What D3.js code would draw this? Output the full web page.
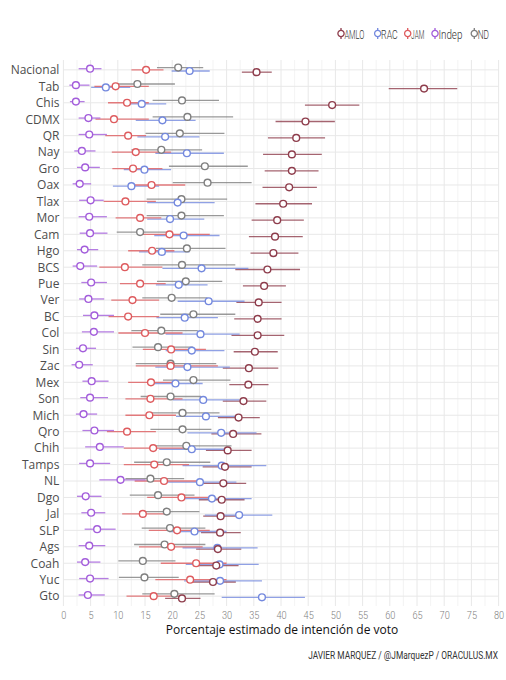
<!DOCTYPE html>
<html><head><meta charset="utf-8">
<script src="https://cdn.jsdelivr.net/npm/d3@7"></script>
<style>
html,body{margin:0;padding:0;background:#fff;}
</style></head>
<body><svg id="c" width="506" height="680"></svg>
<script>
const states = ["Nacional","Tab","Chis","CDMX","QR","Nay","Gro","Oax","Tlax","Mor","Cam","Hgo","BCS","Pue","Ver","BC","Col","Sin","Zac","Mex","Son","Mich","Qro","Chih","Tamps","NL","Dgo","Jal","SLP","Ags","Coah","Yuc","Gto"];
const parties = ["AMLO","RAC","JAM","Indep","ND"];
const xTicks = [0,5,10,15,20,25,30,35,40,45,50,55,60,65,70,75,80];

const amloEst = [35.5,66.3,49.4,44.5,42.8,42.0,42.0,41.5,40.4,39.3,38.9,38.6,37.5,36.9,35.9,35.7,35.7,35.2,34.1,34.0,33.1,32.2,31.2,30.2,29.7,29.4,29.1,28.9,28.8,28.4,28.1,27.5,21.8];
const amloLo  = [32.8,59.8,44.4,39.0,37.6,36.7,37.0,36.6,35.3,34.6,34.1,34.4,31.6,33.0,31.8,31.4,30.9,31.3,29.3,30.5,29.3,28.4,27.2,26.2,25.6,25.6,24.9,25.7,25.3,24.4,23.8,22.8,18.7];
const amloHi  = [38.3,72.4,54.4,49.9,48.1,47.5,46.9,46.6,45.7,44.2,44.0,43.2,43.5,40.9,40.1,40.1,40.6,39.4,39.5,37.7,37.3,36.1,36.4,34.6,34.6,33.6,33.3,32.7,32.6,32.7,32.2,31.7,25.2];

const racEst = [23.2,7.8,14.4,18.2,18.7,22.7,14.9,12.5,21.0,19.6,22.1,18.1,25.4,21.2,26.7,22.3,25.2,23.6,22.8,20.6,25.7,26.2,29.0,23.6,29.1,25.1,27.3,32.3,24.1,28.3,28.7,28.8,36.5];
const racLo  = [19.9,5.1,11.4,13.3,13.6,16.9,11.1,9.1,15.4,15.4,16.7,13.9,18.2,17.0,21.0,17.1,18.8,18.8,16.9,16.7,20.1,20.7,22.8,17.6,21.9,18.8,21.3,26.0,19.4,21.9,22.5,22.2,29.1];
const racHi  = [26.9,12.3,18.9,24.3,25.0,29.5,19.8,17.6,27.8,25.9,28.7,23.2,34.0,26.5,33.3,28.4,32.4,29.6,30.6,25.6,32.4,32.4,35.5,30.0,37.3,31.8,34.6,38.4,30.0,35.7,35.9,36.5,44.4];

const jamEst = [15.2,9.6,11.7,9.3,11.9,13.3,12.8,16.2,11.4,14.1,19.5,16.3,11.3,14.1,12.7,11.9,15.0,19.8,19.7,16.1,16.0,15.8,11.7,16.5,16.7,18.5,21.7,14.6,20.9,19.8,24.4,23.3,16.6];
const jamLo  = [12.5,5.7,8.2,5.9,7.7,8.9,9.0,12.0,7.4,9.6,14.5,11.9,6.6,10.4,8.8,8.3,10.1,14.6,13.3,11.9,11.4,11.4,8.0,11.1,11.1,13.1,15.4,10.8,15.7,13.9,17.9,16.9,11.6];
const jamHi  = [18.4,15.7,15.7,15.7,15.2,19.8,18.2,22.4,17.0,18.0,26.9,20.4,18.2,18.8,17.6,17.6,21.9,26.2,28.4,20.4,21.9,20.7,17.0,22.2,23.1,25.0,27.5,18.8,26.9,25.6,30.0,30.0,22.2];

const indEst = [4.9,2.3,2.3,4.6,4.75,3.4,4.0,3.0,5.0,4.75,4.9,3.9,3.1,5.1,4.6,5.7,5.6,3.6,2.9,5.2,4.9,3.7,5.7,6.7,4.9,10.5,4.1,5.1,6.2,4.75,4.0,4.9,4.5];
const indLo  = [2.8,1.1,1.2,2.8,2.8,2.0,2.5,1.7,2.9,2.8,3.0,2.5,1.7,3.3,2.9,3.6,3.4,2.3,1.5,3.5,3.1,2.3,3.5,4.0,2.9,6.6,2.5,3.3,3.9,2.8,2.5,2.9,2.8];
const indHi  = [7.0,4.8,3.9,6.8,8.0,5.9,6.7,5.1,7.4,8.0,8.1,6.4,6.2,8.0,7.5,9.3,9.3,6.0,5.4,8.3,8.2,6.2,9.3,11.1,8.6,15.1,7.0,7.7,9.6,7.7,6.8,8.3,7.6];

const ndEst = [21.1,13.6,21.8,22.8,21.4,18.0,26.0,26.5,21.7,21.7,14.1,22.7,21.8,22.5,19.9,23.9,18.0,17.4,19.7,23.9,19.7,21.9,21.9,22.6,19.0,16.0,17.4,19.0,19.6,18.6,14.6,14.9,20.4];
const ndLo  = [17.2,9.3,16.4,16.4,15.1,12.5,19.4,20.1,15.3,15.3,9.8,17.0,14.5,17.2,14.5,17.8,12.5,12.7,13.3,18.3,14.2,15.7,16.0,17.0,13.0,11.4,12.2,13.9,14.4,13.0,10.1,10.2,14.5];
const ndHi  = [25.7,20.5,28.6,31.2,29.6,25.5,33.9,34.6,30.1,29.5,19.0,29.8,31.6,29.2,26.5,31.6,24.7,23.8,28.1,30.7,25.3,28.7,27.2,30.9,27.0,22.2,24.1,25.0,26.1,26.1,20.6,21.2,27.8];

const colors = {AMLO:"#8e3d4c", RAC:"#7489de", JAM:"#de5b5e", Indep:"#a35ddb", ND:"#7f7f7f"};
const dodge = {ND:-2.3, Indep:-1.15, JAM:0, RAC:1.15, AMLO:2.3};

const series = [
  {name:"AMLO", est:amloEst, lo:amloLo, hi:amloHi},
  {name:"RAC", est:racEst, lo:racLo, hi:racHi},
  {name:"JAM", est:jamEst, lo:jamLo, hi:jamHi},
  {name:"Indep", est:indEst, lo:indLo, hi:indHi},
  {name:"ND", est:ndEst, lo:ndLo, hi:ndHi}
];

const svg = d3.select("#c");
const pL = 63.4, pR = 498.6, pT = 60, pB = 606;
const x = d3.scaleLinear().domain([0,80]).range([pL,pR]);
const y = d3.scalePoint().domain(states).range([pT,pB]).padding(0.6);
const condFont = "Roboto, 'DejaVu Sans', sans-serif";

// squeeze a text horizontally (emulates a condensed face) about its anchor point
function squeeze(node, targetW, ax){
  const w = node.getComputedTextLength();
  const s = targetW / w;
  node.setAttribute("transform", `translate(${ax},0) scale(${s},1) translate(${-ax},0)`);
}

// grid
const g = svg.append("g");
const minor = d3.range(2.5,80,5);
g.selectAll(".vmin").data(minor).join("line")
  .attr("x1",d=>x(d)).attr("x2",d=>x(d)).attr("y1",pT).attr("y2",pB)
  .attr("stroke","#f0f0f0").attr("stroke-width",0.8);
g.selectAll(".vmaj").data(xTicks).join("line")
  .attr("x1",d=>x(d)).attr("x2",d=>x(d)).attr("y1",pT).attr("y2",pB)
  .attr("stroke","#e8e8e8").attr("stroke-width",1);
g.selectAll(".h").data(states).join("line")
  .attr("x1",pL).attr("x2",pR).attr("y1",d=>y(d)).attr("y2",d=>y(d))
  .attr("stroke","#e8e8e8").attr("stroke-width",1);

// axes labels
const xa = svg.append("g").attr("transform",`translate(0,${pB})`)
  .call(d3.axisBottom(x).tickValues(xTicks).tickSize(0).tickPadding(5));
xa.select(".domain").remove();
xa.selectAll("text")
  .attr("font-family",condFont).attr("font-weight",300)
  .attr("font-size",11).attr("fill","#808080")
  .each(function(d){ squeeze(this, String(d).length*5.1, 0); });

const ya = svg.append("g").attr("transform",`translate(${pL},0)`)
  .call(d3.axisLeft(y).tickSize(0).tickPadding(4));
ya.select(".domain").remove();
ya.selectAll("text").attr("font-family","'Open Sans',sans-serif").attr("font-size",12).attr("fill","#4d4d4d");

// ranges
const lines = svg.append("g");
series.forEach(s=>{
  lines.selectAll(null).data(states).join("line")
    .attr("x1",(d,i)=>x(s.lo[i])).attr("x2",(d,i)=>x(s.hi[i]))
    .attr("y1",d=>y(d)+dodge[s.name]).attr("y2",d=>y(d)+dodge[s.name])
    .attr("stroke",colors[s.name]).attr("stroke-width",1.3).attr("stroke-opacity",0.8);
});
const pts = svg.append("g");
["ND","Indep","JAM","RAC","AMLO"].forEach(n=>{
  const s = series.find(t=>t.name===n);
  pts.selectAll(null).data(states).join("circle")
    .attr("cx",(d,i)=>x(s.est[i])).attr("cy",d=>y(d)+dodge[n]).attr("r",3.4)
    .attr("fill","#fff").attr("stroke",colors[n]).attr("stroke-width",1.4);
});

// legend
const legX = [341,377.7,407.7,435,474.3];
const legW = [20,16.6,13.3,24,11.3];
const leg = svg.append("g");
parties.forEach((p,i)=>{
  const lg = leg.append("g").attr("transform",`translate(${legX[i]},33.5)`);
  lg.append("line").attr("x1",0).attr("x2",0).attr("y1",-5.5).attr("y2",5.5)
    .attr("stroke",colors[p]).attr("stroke-width",1.3);
  lg.append("circle").attr("r",3.1).attr("fill","#fff").attr("stroke",colors[p]).attr("stroke-width",1.3);
  const t = lg.append("text").attr("x",3.4).attr("y",5)
    .attr("font-family",condFont).attr("font-weight",300).attr("font-size",13.5).attr("fill","#333").text(p);
  squeeze(t.node(), legW[i], 3.4);
});

// titles
svg.append("text").attr("x",282).attr("y",634).attr("text-anchor","middle")
  .attr("font-family","'Open Sans',sans-serif").attr("font-size",12).attr("fill","#111")
  .text("Porcentaje estimado de intención de voto");
const cap = svg.append("text").attr("x",498).attr("y",659).attr("text-anchor","end")
  .attr("font-family",condFont).attr("font-size",11.5).attr("fill","#333")
  .text("JAVIER MARQUEZ / @JMarquezP / ORACULUS.MX");
squeeze(cap.node(), 190, 498);
</script></body></html>
